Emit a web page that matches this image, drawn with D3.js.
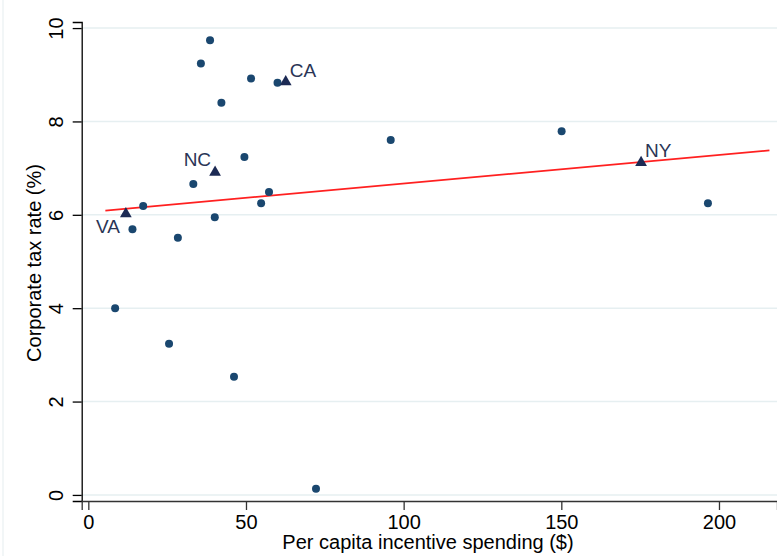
<!DOCTYPE html>
<html>
<head>
<meta charset="utf-8">
<script src="https://cdn.jsdelivr.net/npm/d3@7"></script>
<style>
  body { margin: 0; background: #fff; }
  text { font-family: "Liberation Sans", Arial, sans-serif; }
</style>
</head>
<body>
<svg id="chart" width="777" height="556"></svg>
<script>
// other states (circles)
const spending = [38.6, 35.7, 51.6, 60.0, 42.2, 49.5, 33.3, 57.3, 54.8, 17.4, 40.1, 14.0, 28.4, 95.9, 150.1, 196.5, 8.5, 25.6, 46.2, 72.2];
const taxRate  = [9.74, 9.24, 8.92, 8.83, 8.40, 7.24, 6.66, 6.49, 6.25, 6.19, 5.95, 5.69, 5.51, 7.60, 7.79, 6.25, 4.00, 3.24, 2.53, 0.13];

// highlighted states (triangles)
const hlStates   = ["CA", "NC", "VA", "NY"];
const hlSpending = [62.6, 40.2, 11.9, 175.3];
const hlTaxRate  = [8.85, 6.91, 6.02, 7.12];

// fitted line endpoints
const fitX = [5.4, 216];
const fitY = [6.09, 7.38];

const xTicks = [0, 50, 100, 150, 200];
const yTicks = [0, 2, 4, 6, 8, 10];

const svg = d3.select("#chart");

const x = d3.scaleLinear().domain([-2.1, 218.4]).range([81.7, 777]);
const y = d3.scaleLinear().domain([-0.13, 10.13]).range([501, 22]);

// faint outer border on the left
svg.append("line")
    .attr("x1", 3).attr("x2", 3).attr("y1", 0).attr("y2", 556)
    .attr("stroke", "#eef3f5").attr("stroke-width", 1.5);

// gridlines
svg.selectAll(".grid")
    .data(yTicks)
    .enter()
    .append("line")
    .attr("x1", 82).attr("x2", 777)
    .attr("y1", d => y(d)).attr("y2", d => y(d))
    .attr("stroke", "#e6eff1")
    .attr("stroke-width", 1.6);

// y axis
const yAxis = svg.append("g")
    .attr("transform", "translate(81.7,0)")
    .call(d3.axisLeft(y).tickValues(yTicks).tickSize(9).tickFormat(d3.format("d")));
yAxis.select(".domain").attr("stroke", "#000").attr("stroke-width", 1.3);
yAxis.selectAll(".tick line").attr("stroke", "#000").attr("stroke-width", 1.3);
yAxis.selectAll(".tick text")
    .attr("font-size", 20)
    .attr("fill", "#000")
    .attr("x", null).attr("dy", null)
    .attr("text-anchor", "middle")
    .attr("transform", "translate(-18.5,0) rotate(-90)");

// x axis
const xAxis = svg.append("g")
    .attr("transform", "translate(0,501)")
    .call(d3.axisBottom(x).tickValues(xTicks).tickSize(9).tickFormat(d3.format("d")));
xAxis.select(".domain").attr("stroke", "#333").attr("stroke-width", 1.3);
xAxis.selectAll(".tick line").attr("stroke", "#333").attr("stroke-width", 1.3);
xAxis.selectAll(".tick text")
    .attr("font-size", 20)
    .attr("fill", "#000")
    .attr("y", 27.5).attr("dy", null);

// axis titles
svg.append("text")
    .attr("x", 428).attr("y", 549)
    .attr("text-anchor", "middle")
    .attr("font-size", 20)
    .text("Per capita incentive spending ($)");

svg.append("text")
    .attr("transform", "translate(41,263) rotate(-90)")
    .attr("text-anchor", "middle")
    .attr("font-size", 20)
    .text("Corporate tax rate (%)");

// fitted line
svg.append("line")
    .attr("x1", x(fitX[0])).attr("y1", y(fitY[0]))
    .attr("x2", x(fitX[1])).attr("y2", y(fitY[1]))
    .attr("stroke", "#ff2020")
    .attr("stroke-width", 1.8);

// circles
svg.selectAll(".dot")
    .data(spending.map((s, i) => ({ s: s, t: taxRate[i] })))
    .enter()
    .append("circle")
    .attr("cx", d => x(d.s))
    .attr("cy", d => y(d.t))
    .attr("r", 4)
    .attr("fill", "#1a476f");

// triangles with labels
const hl = hlStates.map((name, i) => ({ name: name, s: hlSpending[i], t: hlTaxRate[i] }));
svg.selectAll(".tri")
    .data(hl)
    .enter()
    .append("path")
    .attr("d", d3.symbol().type(d3.symbolTriangle).size(60))
    .attr("transform", d => `translate(${x(d.s)},${y(d.t)})`)
    .attr("fill", "#1c2a54");

// label placement: CA/NY up-right, NC up-left, VA down-left
const labelPos = {
    CA: { dx: 4, dy: -5, anchor: "start" },
    NY: { dx: 4, dy: -6, anchor: "start" },
    NC: { dx: -4, dy: -6, anchor: "end" },
    VA: { dx: -6, dy: 19, anchor: "end" }
};
svg.selectAll(".lbl")
    .data(hl)
    .enter()
    .append("text")
    .attr("x", d => x(d.s) + labelPos[d.name].dx)
    .attr("y", d => y(d.t) + labelPos[d.name].dy)
    .attr("text-anchor", d => labelPos[d.name].anchor)
    .attr("font-size", 19)
    .attr("fill", "#2a3556")
    .text(d => d.name);
</script>
</body>
</html>
